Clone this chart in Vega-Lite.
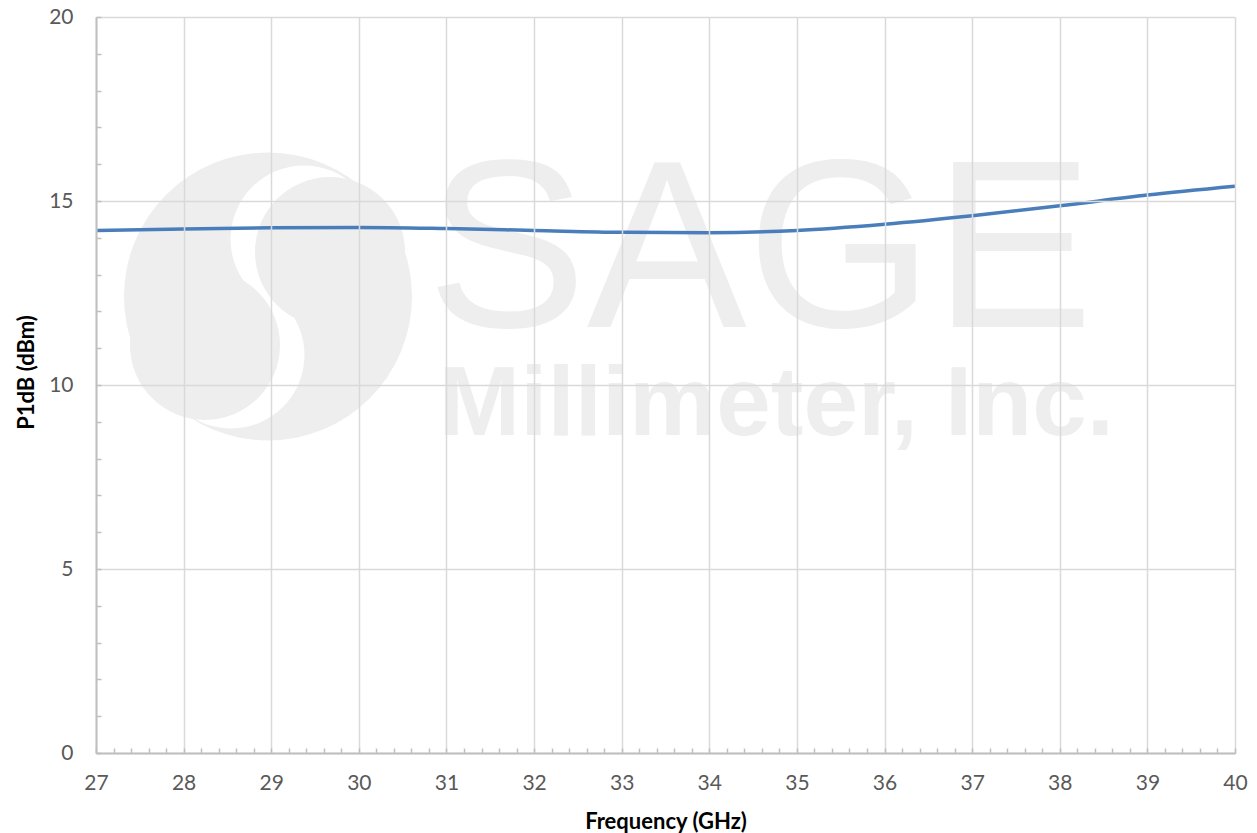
{
  "$schema": "https://vega.github.io/schema/vega-lite/v6.json",
  "width": 1139,
  "height": 736,
  "autosize": {"type": "none"},
  "padding": {"left": 96, "top": 17, "right": 22, "bottom": 80},
  "background": "#ffffff",
  "config": {
    "view": {"stroke": null},
    "axis": {
      "labelFont": "Lato",
      "labelFontSize": 21,
      "labelColor": "#595959",
      "titleFont": "Lato",
      "titleFontSize": 22,
      "titleFontWeight": "bold",
      "titleColor": "#000000",
      "domainColor": "#bfbfbf",
      "domainWidth": 2,
      "tickColor": "#bfbfbf",
      "tickWidth": 1.5,
      "gridColor": "#d9d9d9",
      "gridWidth": 1.5
    }
  },
  "datasets": {
    "curve": [
      {"freq": 27, "p1db": 14.20},
      {"freq": 28, "p1db": 14.24},
      {"freq": 29, "p1db": 14.27},
      {"freq": 30, "p1db": 14.28},
      {"freq": 31, "p1db": 14.25},
      {"freq": 32, "p1db": 14.20},
      {"freq": 33, "p1db": 14.15},
      {"freq": 34, "p1db": 14.14},
      {"freq": 35, "p1db": 14.20},
      {"freq": 36, "p1db": 14.37},
      {"freq": 37, "p1db": 14.60},
      {"freq": 38, "p1db": 14.87},
      {"freq": 39, "p1db": 15.16},
      {"freq": 40, "p1db": 15.40}
    ],
    "logo": [
      {"part": "disc", "freq": 28.963, "p1db": 12.405},
      {"part": "w1", "freq": 29.374, "p1db": 13.967},
      {"part": "w2", "freq": 28.541, "p1db": 10.815},
      {"part": "g1", "freq": 29.671, "p1db": 13.614},
      {"part": "g2", "freq": 28.244, "p1db": 11.087}
    ],
    "words": [
      {"part": "big", "freq": 34.58, "p1db": 11.576, "label": "SAGE"},
      {"part": "small", "freq": 30.91, "p1db": 8.641, "label": "Millimeter, Inc."}
    ]
  },
  "encoding": {
    "x": {
      "field": "freq",
      "type": "quantitative",
      "scale": {"domain": [27, 40], "nice": false, "zero": false},
      "axis": {
        "title": "Frequency (GHz)",
        "zindex": 1,
        "values": [27, 27.2, 27.4, 27.6, 27.8, 28, 28.2, 28.4, 28.6, 28.8, 29, 29.2, 29.4, 29.6, 29.8, 30, 30.2, 30.4, 30.6, 30.8, 31, 31.2, 31.4, 31.6, 31.8, 32, 32.2, 32.4, 32.6, 32.8, 33, 33.2, 33.4, 33.6, 33.8, 34, 34.2, 34.4, 34.6, 34.8, 35, 35.2, 35.4, 35.6, 35.8, 36, 36.2, 36.4, 36.6, 36.8, 37, 37.2, 37.4, 37.6, 37.8, 38, 38.2, 38.4, 38.6, 38.8, 39, 39.2, 39.4, 39.6, 39.8, 40],
        "labelExpr": "datum.value % 1 === 0 ? format(datum.value, 'd') : ''",
        "labelOverlap": false,
        "labelFlush": false,
        "tickSize": -5,
        "labelPadding": 24,
        "gridOpacity": {"condition": {"test": "datum.value % 1 === 0", "value": 1}, "value": 0},
        "titleY": 75,
        "titleBaseline": "alphabetic"
      }
    },
    "y": {
      "field": "p1db",
      "type": "quantitative",
      "scale": {"domain": [0, 20], "nice": false},
      "axis": {
        "title": "P1dB (dBm)",
        "zindex": 1,
        "values": [0, 1, 2, 3, 4, 5, 6, 7, 8, 9, 10, 11, 12, 13, 14, 15, 16, 17, 18, 19, 20],
        "labelExpr": "datum.value % 5 === 0 ? format(datum.value, 'd') : ''",
        "labelOverlap": false,
        "labelFlush": false,
        "tickSize": -5,
        "labelPadding": 28,
        "gridOpacity": {"condition": {"test": "datum.value % 5 === 0", "value": 1}, "value": 0},
        "titleX": -70,
        "titleY": 355,
        "titleBaseline": "middle"
      }
    }
  },
  "layer": [
    {
      "data": {"name": "logo"},
      "transform": [{"filter": "datum.part === 'disc'"}],
      "mark": {"type": "point", "shape": "circle", "filled": true, "opacity": 1, "color": "#eeeeee", "size": 82944, "strokeWidth": 0}
    },
    {
      "data": {"name": "logo"},
      "transform": [{"filter": "datum.part === 'w1' || datum.part === 'w2'"}],
      "mark": {"type": "point", "shape": "circle", "filled": true, "opacity": 1, "color": "#ffffff", "size": 21600, "strokeWidth": 0}
    },
    {
      "data": {"name": "logo"},
      "transform": [{"filter": "datum.part === 'g1' || datum.part === 'g2'"}],
      "mark": {"type": "point", "shape": "circle", "filled": true, "opacity": 1, "color": "#eeeeee", "size": 22500, "strokeWidth": 0}
    },
    {
      "data": {"name": "words"},
      "transform": [{"filter": "datum.part === 'big'"}],
      "mark": {"type": "text", "font": "Liberation Sans", "fontSize": 240, "color": "#eeeeee", "align": "center", "baseline": "alphabetic"},
      "encoding": {"text": {"field": "label"}}
    },
    {
      "data": {"name": "words"},
      "transform": [{"filter": "datum.part === 'small'"}],
      "mark": {"type": "text", "font": "Liberation Sans", "fontWeight": "bold", "fontSize": 98, "color": "#eeeeee", "align": "left", "baseline": "alphabetic"},
      "encoding": {"text": {"field": "label"}}
    },
    {
      "data": {"name": "curve"},
      "mark": {"type": "line", "interpolate": "monotone", "color": "#4a7ebb", "strokeWidth": 3.5}
    }
  ]
}
